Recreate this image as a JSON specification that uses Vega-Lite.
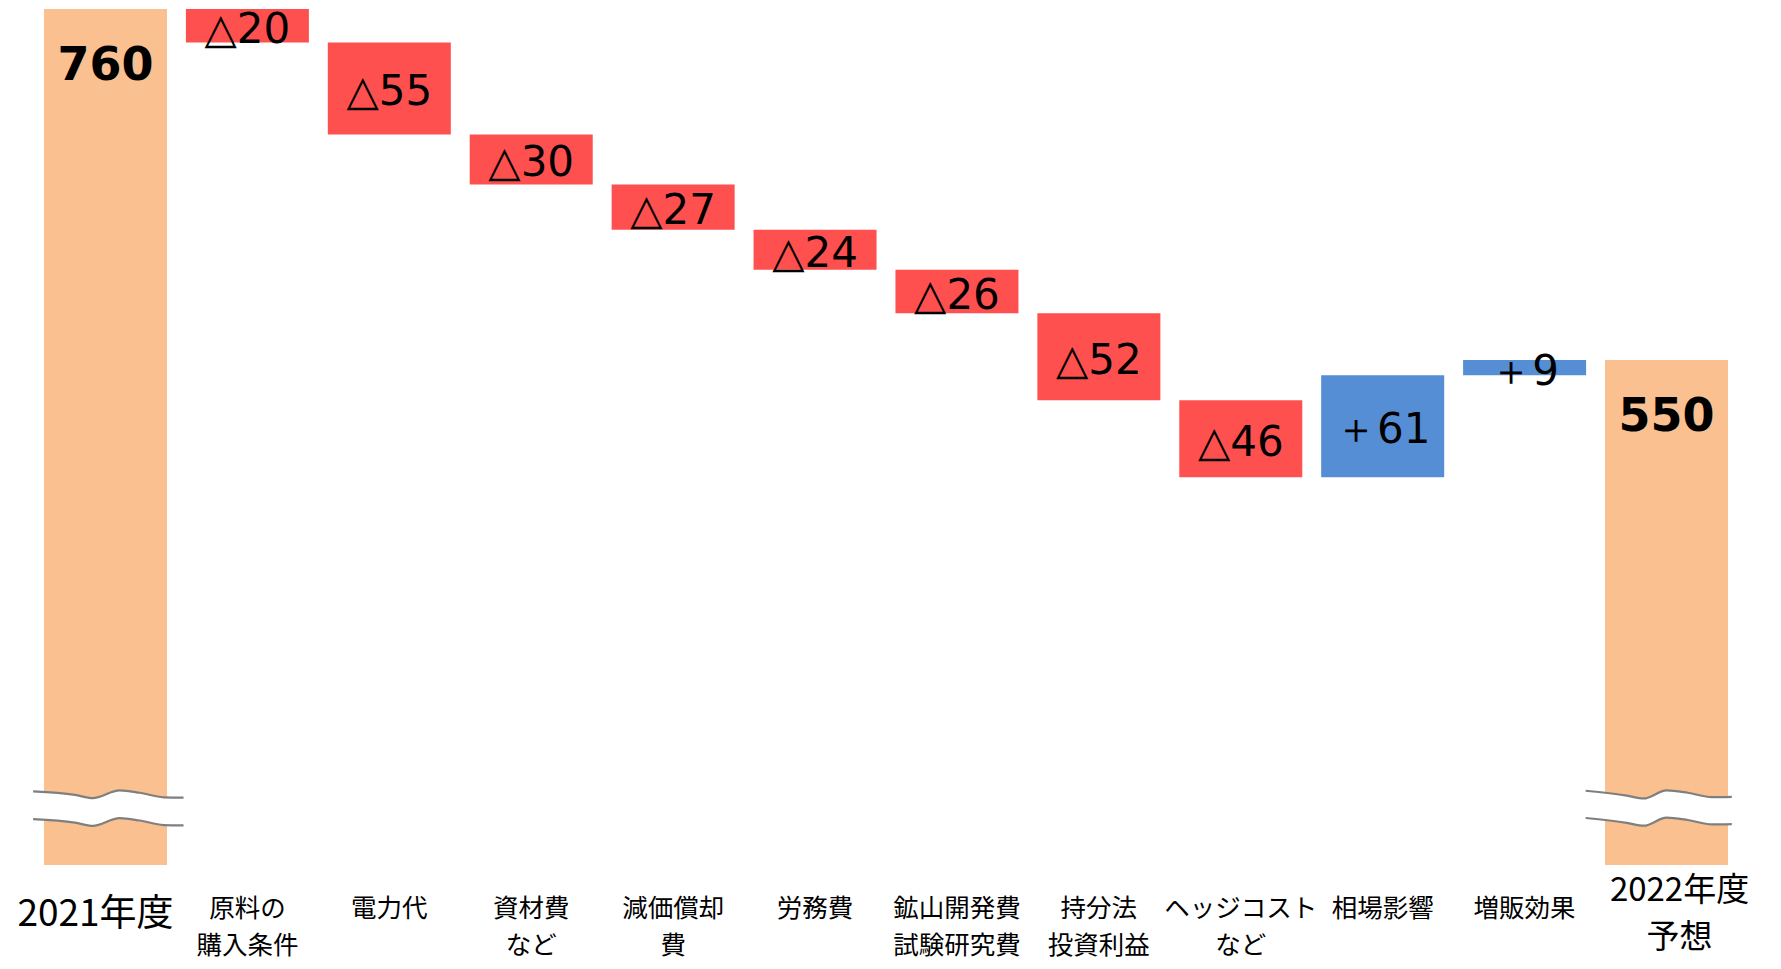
{
  "$schema": "https://vega.github.io/schema/vega-lite/v6.json",
  "autosize": {"type": "none"},
  "padding": {"left": 0, "top": 9, "right": 9, "bottom": 104},
  "width": 1772,
  "height": 856,
  "background": "white",
  "config": {"view": {"stroke": null}},
  "datasets": {
    "steps": [
      {"cat": "2021年度", "kind": "total", "start": 0, "end": 760, "label": "760"},
      {"cat": "原料の\n購入条件", "kind": "dec", "start": 760, "end": 740, "label": "△20"},
      {"cat": "電力代", "kind": "dec", "start": 740, "end": 685, "label": "△55"},
      {"cat": "資材費\nなど", "kind": "dec", "start": 685, "end": 655, "label": "△30"},
      {"cat": "減価償却\n費", "kind": "dec", "start": 655, "end": 628, "label": "△27"},
      {"cat": "労務費", "kind": "dec", "start": 628, "end": 604, "label": "△24"},
      {"cat": "鉱山開発費\n試験研究費", "kind": "dec", "start": 604, "end": 578, "label": "△26"},
      {"cat": "持分法\n投資利益", "kind": "dec", "start": 578, "end": 526, "label": "△52"},
      {"cat": "ヘッジコスト\nなど", "kind": "dec", "start": 526, "end": 480, "label": "△46"},
      {"cat": "相場影響", "kind": "inc", "start": 480, "end": 541, "label": "＋61"},
      {"cat": "増販効果", "kind": "inc", "start": 541, "end": 550, "label": "＋9"},
      {"cat": "2022年度\n予想", "kind": "total", "start": 0, "end": 550, "label": "550"}
    ],
    "breaks": [
      {"brk": "a", "pos": -0.51, "upper": 292.0, "lower": 275.4},
      {"brk": "a", "pos": -0.215, "upper": 289.9, "lower": 273.3},
      {"brk": "a", "pos": -0.09, "upper": 288.0, "lower": 271.4},
      {"brk": "a", "pos": 0.10, "upper": 292.6, "lower": 276.0},
      {"brk": "a", "pos": 0.24, "upper": 291.2, "lower": 274.6},
      {"brk": "a", "pos": 0.41, "upper": 288.5, "lower": 271.9},
      {"brk": "a", "pos": 0.55, "upper": 288.3, "lower": 271.7},
      {"brk": "b", "pos": 10.43, "upper": 292.4, "lower": 276.1},
      {"brk": "b", "pos": 10.72, "upper": 289.5, "lower": 273.2},
      {"brk": "b", "pos": 10.84, "upper": 287.8, "lower": 271.5},
      {"brk": "b", "pos": 11.0, "upper": 292.6, "lower": 276.3},
      {"brk": "b", "pos": 11.15, "upper": 291.2, "lower": 274.9},
      {"brk": "b", "pos": 11.32, "upper": 288.6, "lower": 272.3},
      {"brk": "b", "pos": 11.46, "upper": 288.8, "lower": 272.5}
    ]
  },
  "layer": [
    {
      "data": {"name": "steps"},
      "encoding": {
        "x": {
          "field": "cat",
          "type": "nominal",
          "sort": null,
          "scale": {"paddingInner": 0.1332, "paddingOuter": 0.31},
          "axis": {
            "title": null,
            "orient": "bottom",
            "domain": false,
            "ticks": false,
            "labelAngle": 0,
            "labelFont": "Noto Sans CJK JP",
            "labelColor": "#000000",
            "labelFontSize": {"expr": "indexof(datum.value, '2022') >= 0 ? 33 : (indexof(datum.value, '2021') >= 0 ? 37 : 25.5)"},
            "labelLineHeight": {"expr": "indexof(datum.value, '年度') >= 0 ? 47 : 37"},
            "labelPadding": {"expr": "indexof(datum.value, '2022') >= 0 ? 9 : 31"},
            "labelOffset": {"expr": "indexof(datum.value, '2022') >= 0 ? 13 : (indexof(datum.value, '2021') >= 0 ? -10 : 0)"},
            "labelBaseline": "top",
            "labelLimit": 400,
            "labelOverlap": false,
            "labelFlush": false,
            "labelBound": false,
            "labelExpr": "split(datum.label, '\\n')"
          }
        }
      },
      "layer": [
        {
          "mark": {"type": "bar"},
          "encoding": {
            "y": {"field": "start", "type": "quantitative", "scale": {"domain": [248, 760], "nice": false, "zero": false, "clamp": true}, "axis": null},
            "y2": {"field": "end"},
            "color": {"field": "kind", "type": "nominal", "scale": {"domain": ["total", "dec", "inc"], "range": ["#FAC090", "#FF5050", "#558ED5"]}, "legend": null}
          }
        },
        {
          "transform": [{"filter": "datum.kind === 'total'"}],
          "mark": {"type": "text", "font": "DejaVu Sans", "fontWeight": "bold", "fontSize": 46, "baseline": "middle", "dy": 57, "color": "#000000"},
          "encoding": {
            "y": {"field": "end", "type": "quantitative"},
            "text": {"field": "label"}
          }
        },
        {
          "transform": [
            {"filter": "datum.kind !== 'total'"},
            {"fold": ["start", "end"], "as": ["edge", "level"]}
          ],
          "mark": {"type": "text", "font": "DejaVu Sans", "fontSize": 42, "baseline": "middle", "dy": 4, "color": "#000000"},
          "encoding": {
            "y": {"field": "level", "type": "quantitative", "aggregate": "mean"},
            "text": {"field": "label"}
          }
        }
      ]
    },
    {
      "data": {"name": "breaks"},
      "encoding": {
        "x": {"field": "pos", "type": "quantitative", "scale": {"domain": [-0.7434, 11.7434], "nice": false, "zero": false}, "axis": null},
        "detail": {"field": "brk"}
      },
      "layer": [
        {
          "mark": {"type": "area", "color": "#FFFFFF", "interpolate": "monotone", "opacity": 1},
          "encoding": {
            "y": {"field": "upper", "type": "quantitative"},
            "y2": {"field": "lower"}
          }
        },
        {
          "mark": {"type": "line", "color": "#7F7F7F", "strokeWidth": 2.2, "interpolate": "monotone"},
          "encoding": {"y": {"field": "upper", "type": "quantitative"}}
        },
        {
          "mark": {"type": "line", "color": "#7F7F7F", "strokeWidth": 2.2, "interpolate": "monotone"},
          "encoding": {"y": {"field": "lower", "type": "quantitative"}}
        }
      ]
    }
  ],
  "resolve": {"scale": {"x": "independent"}}
}
